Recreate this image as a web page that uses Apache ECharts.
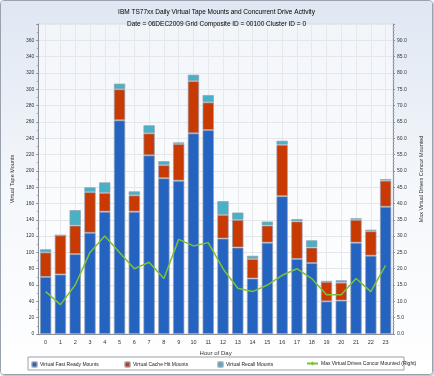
<!DOCTYPE html>
<html>
<head>
<meta charset="utf-8">
<script src="https://cdn.jsdelivr.net/npm/echarts@6/dist/echarts.min.js"></script>
<style>
  html, body { margin: 0; padding: 0; background: #fff; }
  .frame {
    position: absolute; left: 0; top: 0; width: 431px; height: 373px;
    border: 1px solid #9aa3ad; border-radius: 4px; box-shadow: 1px 1px 2px #b0b0b0;
    overflow: hidden;
  }
  #chart { width: 431px; height: 373px; }
</style>
</head>
<body>
<div class="frame"><div id="chart"></div></div>
<script>
// hours of the day
const hours = ['0', '1', '2', '3', '4', '5', '6', '7', '8', '9', '10', '11',
  '12', '13', '14', '15', '16', '17', '18', '19', '20', '21', '22', '23']
// stacked mounts per hour
const fastReady = [70, 73, 98, 124, 150, 262, 150, 219, 191, 188, 246, 250,
  117, 106, 68, 112, 169, 92, 87, 40, 41, 112, 96, 156]
const cacheHit = [30, 48, 35, 50, 23, 38, 20, 27, 16, 45, 64, 34,
  29, 34, 24, 21, 63, 46, 19, 24, 22, 28, 30, 32]
const recall = [4, 0, 19, 6, 13, 7, 5, 10, 5, 2, 8, 9,
  17, 9, 4, 5, 5, 3, 9, 1, 3, 2, 2, 2]
// max concurrent drives (right axis)
const maxDrives = [13, 9, 15, 25, 30, 25, 20, 22, 17, 29, 27, 28,
  20, 14, 13, 15, 18, 20, 17, 12, 12, 17, 13, 21]

const names = ['Virtual Fast Ready Mounts', 'Virtual Cache Hit Mounts',
  'Virtual Recall Mounts', 'Max Virtual Drives Concur Mounted (Right)']
const color = ['#2563c1', '#c83a02', '#48b2c4', '#7cc236']

const barBorder = { borderColor: 'rgba(150,160,180,0.7)', borderWidth: 1 }
const font = 'Liberation Sans, Arial, sans-serif'

let myChart = echarts.init(document.getElementById('chart'))
// one legend per item so they sit where the original puts them
let legendX = [30, 123, 216, 305]
let legends = names.map((n, i) => ({
  left: legendX[i],
  top: 360,
  padding: 0,
  itemWidth: i === 3 ? 11 : 5,
  itemHeight: 5,
  data: [n],
  textStyle: { fontSize: 5, color: '#222', fontFamily: font, padding: [0, 0, 0, -2] }
}))

let option = {
  backgroundColor: new echarts.graphic.LinearGradient(0, 0, 0, 1, [
    { offset: 0, color: '#dfe7f2' },
    { offset: 0.5, color: '#f4f7fb' },
    { offset: 1, color: '#ffffff' }
  ]),
  color: color,
  animation: false,
  title: [{
    text: 'IBM TS77xx Daily Virtual Tape Mounts and Concurrent Drive Activity',
    left: 'center',
    top: 3,
    textStyle: { fontSize: 6.5, fontWeight: 'normal', color: '#000', fontFamily: font }
  }, {
    text: 'Date = 06DEC2009 Grid Composite ID = 00100 Cluster ID = 0',
    left: 'center',
    top: 15,
    textStyle: { fontSize: 6.5, fontWeight: 'normal', color: '#000', fontFamily: font }
  }],
  grid: {
    left: 26,
    right: 26,
    top: 23,
    bottom: 40,
    show: true,
    backgroundColor: 'rgba(255,255,255,0.55)',
    borderColor: '#d8dde5',
    borderWidth: 1
  },
  legend: legends,
  graphic: [{
    type: 'rect',
    shape: { x: 27, y: 356, width: 376, height: 13 },
    style: { fill: 'rgba(255,255,255,0.6)', stroke: '#9aa3ad', lineWidth: 1 }
  }],
  xAxis: {
    type: 'category',
    data: hours,
    name: 'Hour of Day',
    nameLocation: 'middle',
    nameGap: 13,
    nameTextStyle: { fontSize: 6, color: '#333', fontFamily: font },
    axisLine: { lineStyle: { color: '#8a8f99' } },
    axisTick: { show: false, alignWithLabel: true },
    axisLabel: { fontSize: 5.5, color: '#333', margin: 5, fontFamily: font },
    splitLine: { show: true, alignWithLabel: true, lineStyle: { color: '#e6e8ec' } }
  },
  yAxis: [{
    type: 'value',
    min: 0,
    max: 380,
    interval: 20,
    name: 'Virtual Tape Mounts',
    nameLocation: 'middle',
    nameGap: 22,
    nameTextStyle: { fontSize: 5.5, color: '#333', fontFamily: font },
    axisLine: { show: true, lineStyle: { color: '#8a8f99' } },
    axisTick: { show: true, length: 2, lineStyle: { color: '#8a8f99' } },
    minorTick: { show: true, splitNumber: 2, length: 1.5, lineStyle: { color: '#aab' } },
    axisLabel: { fontSize: 5, color: '#333', margin: 4, showMaxLabel: false, fontFamily: font },
    splitLine: { lineStyle: { color: '#e4e6ea' } }
  }, {
    type: 'value',
    min: 0,
    max: 95,
    interval: 5,
    name: 'Max Virtual Drives Concur Mounted',
    nameLocation: 'middle',
    nameGap: 25,
    nameRotate: 90,
    nameTextStyle: { fontSize: 5.5, color: '#333', fontFamily: font },
    axisLine: { show: true, lineStyle: { color: '#8a8f99' } },
    axisTick: { show: true, length: 2, lineStyle: { color: '#8a8f99' } },
    minorTick: { show: true, splitNumber: 5, length: 1.5, lineStyle: { color: '#aab' } },
    axisLabel: {
      fontSize: 5, color: '#333', margin: 4, showMaxLabel: false, fontFamily: font,
      formatter: v => v.toFixed(1)
    },
    splitLine: { show: false }
  }],
  series: [{
    name: names[0],
    type: 'bar',
    stack: 'mounts',
    barCategoryGap: '22%',
    itemStyle: barBorder,
    data: fastReady
  }, {
    name: names[1],
    type: 'bar',
    stack: 'mounts',
    itemStyle: barBorder,
    data: cacheHit
  }, {
    name: names[2],
    type: 'bar',
    stack: 'mounts',
    itemStyle: barBorder,
    data: recall
  }, {
    name: names[3],
    type: 'line',
    yAxisIndex: 1,
    symbol: 'diamond',
    symbolSize: 3,
    showSymbol: false,
    lineStyle: { width: 1.5, color: '#7cc236' },
    data: maxDrives
  }]
}
myChart.setOption(option, true)
</script>
</body>
</html>
